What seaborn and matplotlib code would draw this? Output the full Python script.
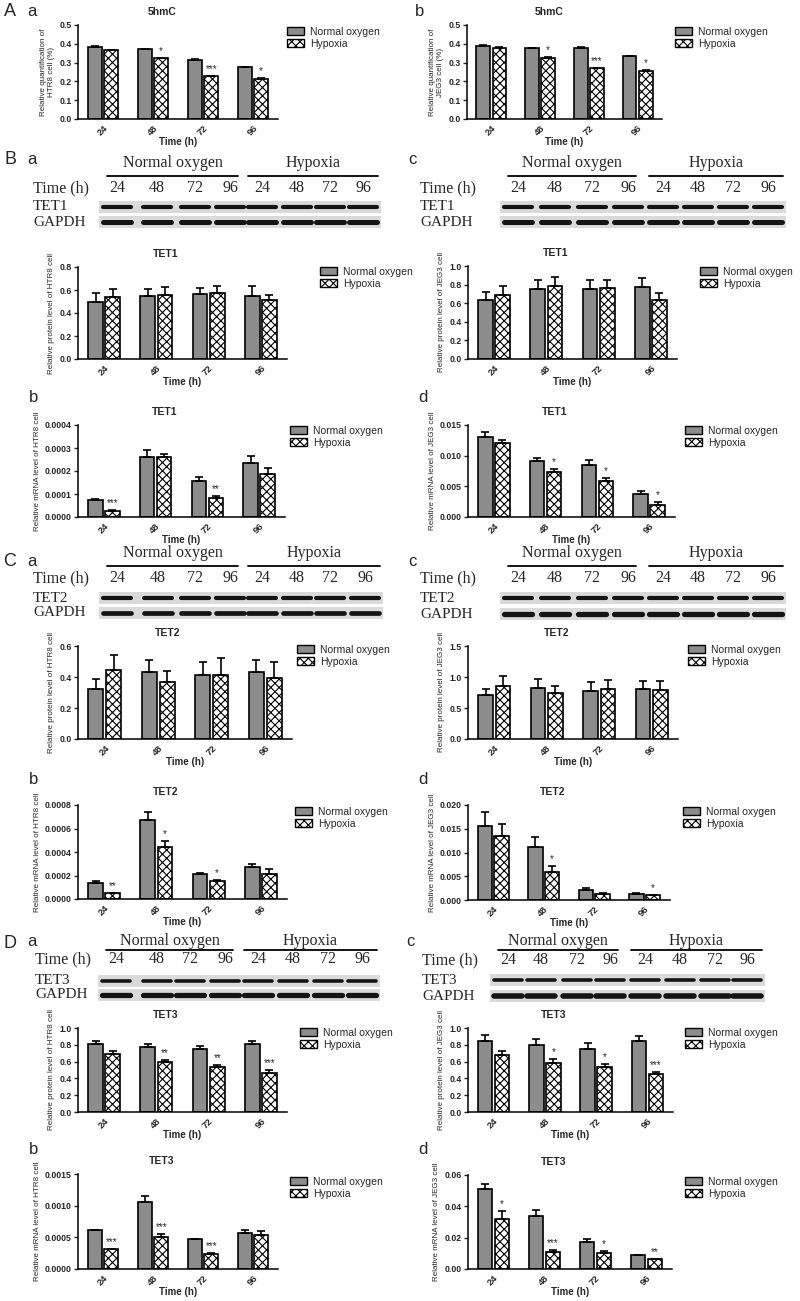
import numpy as np
import pandas as pd
import matplotlib
matplotlib.use('Agg')
import matplotlib.pyplot as plt
from matplotlib.patches import Patch, Rectangle
from matplotlib.ticker import FormatStrFormatter
import seaborn as sns

sns.set_style('white')
plt.rcParams['font.family'] = ['Liberation Sans', 'DejaVu Sans']
plt.rcParams['hatch.linewidth'] = 0.8

# ---- data ----
times = ['24', '48', '72', '96']
conditions = ['Normal oxygen', 'Hypoxia']

# A: 5hmC
hmc_htr8_normal = [0.385, 0.372, 0.315, 0.277]
hmc_htr8_normal_err = [0.003, 0.002, 0.005, 0.002]
hmc_htr8_hypoxia = [0.366, 0.323, 0.228, 0.215]
hmc_htr8_hypoxia_err = [0.003, 0.003, 0.003, 0.003]
hmc_htr8_sig = ['', '*', '***', '*']

hmc_jeg3_normal = [0.390, 0.378, 0.380, 0.333]
hmc_jeg3_normal_err = [0.003, 0.002, 0.002, 0.002]
hmc_jeg3_hypoxia = [0.380, 0.326, 0.270, 0.255]
hmc_jeg3_hypoxia_err = [0.002, 0.002, 0.003, 0.004]
hmc_jeg3_sig = ['', '*', '***', '*']

# B: TET1
tet1_prot_htr8_normal = [0.50, 0.545, 0.565, 0.55]
tet1_prot_htr8_normal_err = [0.075, 0.06, 0.055, 0.085]
tet1_prot_htr8_hypoxia = [0.54, 0.56, 0.57, 0.51]
tet1_prot_htr8_hypoxia_err = [0.07, 0.07, 0.065, 0.05]

tet1_prot_jeg3_normal = [0.63, 0.75, 0.75, 0.77]
tet1_prot_jeg3_normal_err = [0.09, 0.10, 0.10, 0.10]
tet1_prot_jeg3_hypoxia = [0.69, 0.78, 0.76, 0.63]
tet1_prot_jeg3_hypoxia_err = [0.10, 0.10, 0.09, 0.08]

tet1_mrna_htr8_normal = [0.000075, 0.00026, 0.000155, 0.000235]
tet1_mrna_htr8_normal_err = [0.000005, 0.000033, 0.000017, 0.00003]
tet1_mrna_htr8_hypoxia = [0.000028, 0.00026, 0.000083, 0.000185]
tet1_mrna_htr8_hypoxia_err = [0.000003, 0.000015, 0.000007, 0.00003]
tet1_mrna_htr8_sig = ['***', '', '**', '']

tet1_mrna_jeg3_normal = [0.0130, 0.0091, 0.0085, 0.0037]
tet1_mrna_jeg3_normal_err = [0.0008, 0.0006, 0.0008, 0.0006]
tet1_mrna_jeg3_hypoxia = [0.0121, 0.0074, 0.0059, 0.0020]
tet1_mrna_jeg3_hypoxia_err = [0.0004, 0.0005, 0.0005, 0.0005]
tet1_mrna_jeg3_sig = ['', '*', '*', '*']

# C: TET2
tet2_prot_htr8_normal = [0.32, 0.43, 0.415, 0.43]
tet2_prot_htr8_normal_err = [0.07, 0.08, 0.085, 0.08]
tet2_prot_htr8_hypoxia = [0.445, 0.365, 0.415, 0.395]
tet2_prot_htr8_hypoxia_err = [0.095, 0.075, 0.11, 0.10]

tet2_prot_jeg3_normal = [0.71, 0.82, 0.77, 0.80]
tet2_prot_jeg3_normal_err = [0.09, 0.14, 0.15, 0.14]
tet2_prot_jeg3_hypoxia = [0.85, 0.74, 0.81, 0.79]
tet2_prot_jeg3_hypoxia_err = [0.16, 0.12, 0.14, 0.14]

tet2_mrna_htr8_normal = [0.000135, 0.00067, 0.00021, 0.000275]
tet2_mrna_htr8_normal_err = [0.000015, 0.00007, 0.00001, 0.00002]
tet2_mrna_htr8_hypoxia = [0.00005, 0.00044, 0.00015, 0.000215]
tet2_mrna_htr8_hypoxia_err = [0.000005, 0.00005, 0.000015, 0.00004]
tet2_mrna_htr8_sig = ['**', '*', '*', '']

tet2_mrna_jeg3_normal = [0.0155, 0.0112, 0.0022, 0.0013]
tet2_mrna_jeg3_normal_err = [0.0030, 0.0020, 0.0004, 0.0001]
tet2_mrna_jeg3_hypoxia = [0.0134, 0.0060, 0.0013, 0.0010]
tet2_mrna_jeg3_hypoxia_err = [0.0026, 0.0011, 0.0001, 0.0001]
tet2_mrna_jeg3_sig = ['', '*', '', '*']

# D: TET3
tet3_prot_htr8_normal = [0.81, 0.775, 0.75, 0.81]
tet3_prot_htr8_normal_err = [0.04, 0.04, 0.04, 0.035]
tet3_prot_htr8_hypoxia = [0.69, 0.595, 0.53, 0.47]
tet3_prot_htr8_hypoxia_err = [0.035, 0.03, 0.035, 0.03]
tet3_prot_htr8_sig = ['', '**', '**', '***']

tet3_prot_jeg3_normal = [0.85, 0.795, 0.755, 0.84]
tet3_prot_jeg3_normal_err = [0.07, 0.07, 0.07, 0.06]
tet3_prot_jeg3_hypoxia = [0.675, 0.585, 0.535, 0.45]
tet3_prot_jeg3_hypoxia_err = [0.055, 0.045, 0.035, 0.025]
tet3_prot_jeg3_sig = ['', '*', '*', '***']

tet3_mrna_htr8_normal = [0.00061, 0.00106, 0.00047, 0.00057]
tet3_mrna_htr8_normal_err = [0.00001, 0.00010, 0.00001, 0.00005]
tet3_mrna_htr8_hypoxia = [0.00031, 0.00051, 0.00024, 0.00053]
tet3_mrna_htr8_hypoxia_err = [0.00001, 0.00004, 0.00001, 0.00007]
tet3_mrna_htr8_sig = ['***', '***', '***', '']

tet3_mrna_jeg3_normal = [0.051, 0.034, 0.0175, 0.0088]
tet3_mrna_jeg3_normal_err = [0.0035, 0.0035, 0.0018, 0.0004]
tet3_mrna_jeg3_hypoxia = [0.032, 0.011, 0.0105, 0.0063]
tet3_mrna_jeg3_hypoxia_err = [0.005, 0.0012, 0.0013, 0.0004]
tet3_mrna_jeg3_sig = ['*', '***', '*', '**']

no_sig = ['', '', '', '']

# ---- figure ----
W, H = 800, 1301
fig = plt.figure(figsize=(W / 100, H / 100), dpi=100)
palette = {'Normal oxygen': '#8c8c8c', 'Hypoxia': 'white'}
hatches = {'Normal oxygen': '', 'Hypoxia': 'xxxx'}

# overlay axes in pixel coordinates for blots and panel letters
ov = fig.add_axes([0, 0, 1, 1])
ov.set_xlim(0, W)
ov.set_ylim(H, 0)
ov.axis('off')


def px_axes(l, t, r, b):
    return fig.add_axes([l / W, 1 - b / H, (r - l) / W, (b - t) / H], facecolor='none')


def bar_panel(box, title, ylabel, normal, normal_err, hypoxia, hypoxia_err, sig, yticks, fmt, leg):
    ax = px_axes(*box)
    df = pd.DataFrame({'Time': times * 2,
                       'Condition': [conditions[0]] * 4 + [conditions[1]] * 4,
                       'value': list(normal) + list(hypoxia)})
    sns.barplot(data=df, x='Time', y='value', hue='Condition', hue_order=conditions,
                palette=palette, errorbar=None, width=0.66, gap=0.15,
                edgecolor='black', linewidth=1.2, legend=False, ax=ax)
    for bar in ax.containers[1]:
        bar.set_hatch(hatches['Hypoxia'])
    # upward error bars (mean + SEM)
    for cont, err in zip(ax.containers, [normal_err, hypoxia_err]):
        xs = [b.get_x() + b.get_width() / 2 for b in cont]
        ys = [b.get_height() for b in cont]
        ax.errorbar(xs, ys, yerr=[np.zeros(len(err)), err], fmt='none', ecolor='black',
                    elinewidth=1.2, capsize=3.2, capthick=1.2, zorder=1)
    ymax = yticks[-1]
    for b, e, s in zip(ax.containers[1], hypoxia_err, sig):
        if s:
            ax.text(b.get_x() + b.get_width() / 2, b.get_height() + e + ymax * 0.02, s,
                    ha='center', va='bottom', fontsize=7)
    ax.set_ylim(0, ymax)
    ax.set_yticks(yticks)
    ax.yaxis.set_major_formatter(FormatStrFormatter(fmt))
    ax.set_xlim(-0.5, 3.5)
    sns.despine(ax=ax)
    for sp in ax.spines.values():
        sp.set_linewidth(1.1)
        sp.set_color('black')
    ax.set_title(title, fontsize=7.5, fontweight='bold', x=0.42, pad=7)
    ax.set_ylabel(ylabel, fontsize=5.8, labelpad=3)
    ax.set_xlabel('Time (h)', fontsize=7, fontweight='bold', labelpad=0)
    ax.tick_params(axis='y', length=3, width=1, labelsize=6.3, pad=1.5, left=True)
    ax.tick_params(axis='x', length=0, labelsize=6.8, pad=3)
    for lab in ax.get_xticklabels():
        lab.set_rotation(45)
        lab.set_ha('right')
        lab.set_rotation_mode('anchor')
        lab.set_fontweight('bold')
    for lab in ax.get_yticklabels():
        lab.set_fontweight('bold')
    handles = [Patch(facecolor=palette[c], edgecolor='black', hatch=hatches[c], label=c)
               for c in conditions]
    ax.legend(handles=handles, loc='upper left', bbox_to_anchor=(leg[0] / W, 1 - leg[1] / H),
              bbox_transform=fig.transFigure, frameon=False, fontsize=7.5,
              handlelength=1.6, handleheight=0.8, handletextpad=0.6, labelspacing=0.15,
              borderaxespad=0, borderpad=0)
    return ax


def blot(x_label, lanes, rows, protein, band_lw):
    y_group, y_line, y_time, y_prot, y_gapdh = rows
    serif = ['Liberation Serif', 'DejaVu Serif']
    spans = [(lanes[0] - 10, lanes[3] + 8), (lanes[4] - 14, lanes[7] + 15)]
    for name, (a, b) in zip(conditions, spans):
        ov.plot([a, b], [y_line, y_line], color='black', lw=1.3)
        ov.text((a + b) / 2, y_group, name, ha='center', va='center', fontsize=11.5, family=serif)
    ov.text(x_label, y_time, 'Time (h)', ha='left', va='center', fontsize=11.5, family=serif)
    for x, t in zip(lanes, times * 2):
        ov.text(x, y_time, t, ha='center', va='center', fontsize=11.5, family=serif)
    for y, lab, lw in [(y_prot, protein, band_lw[0]), (y_gapdh, 'GAPDH', band_lw[1])]:
        ov.text(x_label, y, lab, ha='left', va='center', fontsize=11, family=serif)
        ov.add_patch(Rectangle((lanes[0] - 18, y - 6), lanes[7] - lanes[0] + 36, 12,
                               facecolor='#dadada', edgecolor='none'))
        for x in lanes:
            ov.plot([x - 14, x + 14], [y, y], color='#141414', lw=lw, solid_capstyle='round')


# panel letters
for txt, x, y, fs in [('A', 10, 12, 13), ('a', 32, 11, 12), ('b', 420, 11, 12),
                      ('B', 10, 160, 13), ('a', 32, 160, 12), ('c', 412, 160, 12),
                      ('b', 34, 397, 12), ('d', 423, 397, 12),
                      ('C', 10, 562, 13), ('a', 32, 562, 12), ('c', 412, 562, 12),
                      ('b', 34, 779, 12), ('d', 423, 779, 12),
                      ('D', 10, 944, 13), ('a', 32, 941, 12), ('c', 410, 941, 12),
                      ('b', 34, 1150, 12), ('d', 423, 1150, 12)]:
    ov.text(x, y, txt, ha='center', va='center', fontsize=fs)

# blots
blot(33, [117, 157, 195, 230, 262, 297, 330, 363], (163, 176, 188, 207, 222), 'TET1', (3.0, 3.6))
blot(420, [518, 555, 592, 628, 663, 698, 733, 768], (163, 176, 188, 207, 222), 'TET1', (3.0, 3.6))
blot(33, [117, 158, 195, 230, 262, 297, 330, 365], (553, 566, 578, 598, 613), 'TET2', (3.0, 3.4))
blot(420, [518, 555, 592, 628, 663, 698, 733, 768], (553, 566, 578, 598, 614), 'TET2', (3.0, 3.8))
blot(35, [116, 157, 190, 225, 258, 293, 328, 362], (941, 950, 959, 981, 995), 'TET3', (2.6, 3.8))
blot(422, [508, 541, 577, 610, 645, 680, 715, 747], (941, 950, 960, 980, 996), 'TET3', (2.6, 4.0))

# bar charts
bar_panel((78, 25, 278, 119), '5hmC', 'Relative quantification of\nHTR8 cell (%)',
          hmc_htr8_normal, hmc_htr8_normal_err, hmc_htr8_hypoxia, hmc_htr8_hypoxia_err,
          hmc_htr8_sig, [0, 0.1, 0.2, 0.3, 0.4, 0.5], '%.1f', (287, 27))
bar_panel((467, 25, 662, 119), '5hmC', 'Relative quantification of\nJEG3 cell (%)',
          hmc_jeg3_normal, hmc_jeg3_normal_err, hmc_jeg3_hypoxia, hmc_jeg3_hypoxia_err,
          hmc_jeg3_sig, [0, 0.1, 0.2, 0.3, 0.4, 0.5], '%.1f', (675, 27))

bar_panel((78, 267, 287, 359), 'TET1', 'Relative protein level of HTR8 cell',
          tet1_prot_htr8_normal, tet1_prot_htr8_normal_err, tet1_prot_htr8_hypoxia,
          tet1_prot_htr8_hypoxia_err, no_sig, [0, 0.2, 0.4, 0.6, 0.8], '%.1f', (320, 267))
bar_panel((468, 266, 677, 359), 'TET1', 'Relative protein level of JEG3 cell',
          tet1_prot_jeg3_normal, tet1_prot_jeg3_normal_err, tet1_prot_jeg3_hypoxia,
          tet1_prot_jeg3_hypoxia_err, no_sig, [0, 0.2, 0.4, 0.6, 0.8, 1.0], '%.1f', (700, 267))
bar_panel((78, 425, 285, 517), 'TET1', 'Relative mRNA level of HTR8 cell',
          tet1_mrna_htr8_normal, tet1_mrna_htr8_normal_err, tet1_mrna_htr8_hypoxia,
          tet1_mrna_htr8_hypoxia_err, tet1_mrna_htr8_sig,
          [0, 0.0001, 0.0002, 0.0003, 0.0004], '%.4f', (290, 426))
bar_panel((468, 425, 675, 517), 'TET1', 'Relative mRNA level of JEG3 cell',
          tet1_mrna_jeg3_normal, tet1_mrna_jeg3_normal_err, tet1_mrna_jeg3_hypoxia,
          tet1_mrna_jeg3_hypoxia_err, tet1_mrna_jeg3_sig,
          [0, 0.005, 0.010, 0.015], '%.3f', (685, 426))

bar_panel((78, 646, 292, 739), 'TET2', 'Relative protein level of HTR8 cell',
          tet2_prot_htr8_normal, tet2_prot_htr8_normal_err, tet2_prot_htr8_hypoxia,
          tet2_prot_htr8_hypoxia_err, no_sig, [0, 0.2, 0.4, 0.6], '%.1f', (297, 645))
bar_panel((468, 646, 678, 739), 'TET2', 'Relative protein level of JEG3 cell',
          tet2_prot_jeg3_normal, tet2_prot_jeg3_normal_err, tet2_prot_jeg3_hypoxia,
          tet2_prot_jeg3_hypoxia_err, no_sig, [0, 0.5, 1.0, 1.5], '%.1f', (688, 645))
bar_panel((78, 805, 287, 899), 'TET2', 'Relative mRNA level of HTR8 cell',
          tet2_mrna_htr8_normal, tet2_mrna_htr8_normal_err, tet2_mrna_htr8_hypoxia,
          tet2_mrna_htr8_hypoxia_err, tet2_mrna_htr8_sig,
          [0, 0.0002, 0.0004, 0.0006, 0.0008], '%.4f', (295, 807))
bar_panel((468, 805, 670, 900), 'TET2', 'Relative mRNA level of JEG3 cell',
          tet2_mrna_jeg3_normal, tet2_mrna_jeg3_normal_err, tet2_mrna_jeg3_hypoxia,
          tet2_mrna_jeg3_hypoxia_err, tet2_mrna_jeg3_sig,
          [0, 0.005, 0.010, 0.015, 0.020], '%.3f', (683, 807))

bar_panel((78, 1028, 287, 1112), 'TET3', 'Relative protein level of HTR8 cell',
          tet3_prot_htr8_normal, tet3_prot_htr8_normal_err, tet3_prot_htr8_hypoxia,
          tet3_prot_htr8_hypoxia_err, tet3_prot_htr8_sig, [0, 0.2, 0.4, 0.6, 0.8, 1.0], '%.1f',
          (300, 1028))
bar_panel((468, 1028, 673, 1112), 'TET3', 'Relative protein level of JEG3 cell',
          tet3_prot_jeg3_normal, tet3_prot_jeg3_normal_err, tet3_prot_jeg3_hypoxia,
          tet3_prot_jeg3_hypoxia_err, tet3_prot_jeg3_sig, [0, 0.2, 0.4, 0.6, 0.8, 1.0], '%.1f',
          (685, 1028))
bar_panel((78, 1174, 278, 1269), 'TET3', 'Relative mRNA level of HTR8 cell',
          tet3_mrna_htr8_normal, tet3_mrna_htr8_normal_err, tet3_mrna_htr8_hypoxia,
          tet3_mrna_htr8_hypoxia_err, tet3_mrna_htr8_sig,
          [0, 0.0005, 0.0010, 0.0015], '%.4f', (290, 1177))
bar_panel((468, 1175, 672, 1269), 'TET3', 'Relative mRNA level of JEG3 cell',
          tet3_mrna_jeg3_normal, tet3_mrna_jeg3_normal_err, tet3_mrna_jeg3_hypoxia,
          tet3_mrna_jeg3_hypoxia_err, tet3_mrna_jeg3_sig,
          [0, 0.02, 0.04, 0.06], '%.2f', (685, 1177))

fig.savefig('out.png', dpi=100)
